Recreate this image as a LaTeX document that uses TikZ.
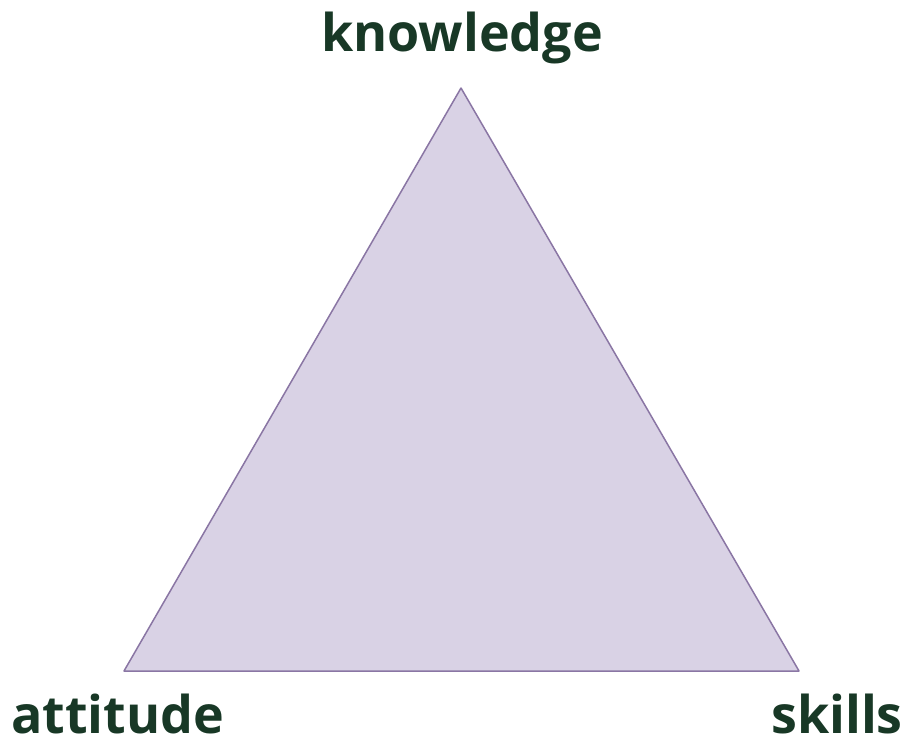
\documentclass[tikz,border=0pt]{standalone}
\usepackage{fontspec}
\setmainfont{Open Sans}
\usetikzlibrary{positioning}
\definecolor{lilac}{HTML}{D9D2E5}
\definecolor{lilacedge}{HTML}{8A76A4}
\definecolor{dkgreen}{HTML}{183826}

\begin{document}
\begin{tikzpicture}[
  x=1pt, y=-1pt,
  every node/.style={text=dkgreen, font=\fontsize{52}{56}\selectfont\bfseries, inner sep=0pt},
]

% Canvas
\useasboundingbox (0,0) rectangle (909,744);

% Corners
\coordinate (top) at (461,88);
\coordinate (left) at (124,671);
\coordinate (right) at (799,671);

% Triangle
\draw[lilacedge, fill=lilac, line width=1.5pt, line join=round]
  (top) -- (left) -- (right) -- cycle;

% Labels
\node[anchor=base] (knowledge) at (462,51) {knowledge};
\node[anchor=base west] (attitude) at (11,733) {attitude};
\node[anchor=base east] (skills) at (903,733) {skills};

\end{tikzpicture}
\end{document}
